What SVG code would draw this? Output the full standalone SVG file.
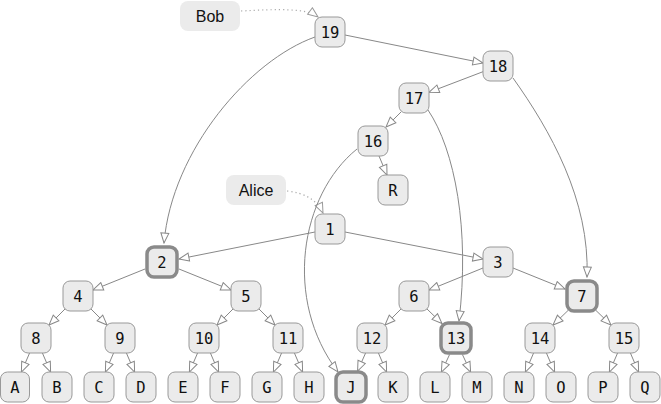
<svg xmlns="http://www.w3.org/2000/svg" width="661" height="404" viewBox="0 0 661 404">
<defs>
<style>
.n rect{fill:#ebebeb;stroke:#999;stroke-width:1}
.n.h rect{stroke:#8a8a8a;stroke-width:3.5}
.n text{font-family:"DejaVu Sans Mono",monospace;font-size:15.5px;text-anchor:middle;fill:#111}
.lb rect{fill:#ebebeb;stroke:none}
.lb text{font-family:"Liberation Sans",Arial,sans-serif;font-size:16px;text-anchor:middle;fill:#111}
.e{fill:none;stroke:#888;stroke-width:1;marker-end:url(#ah)}
.d{fill:none;stroke:#aaa;stroke-width:1.2;stroke-dasharray:1.2 3;marker-end:url(#ah2)}
</style>
<marker id="ah" viewBox="0 0 12 10" refX="11" refY="5" markerWidth="12" markerHeight="10" markerUnits="userSpaceOnUse" orient="auto">
<path d="M1,1 L11,5 L1,9 Z" fill="#fff" stroke="#888" stroke-width="1"/>
</marker>
<marker id="ah2" viewBox="0 0 12 10" refX="11" refY="5" markerWidth="12" markerHeight="10" markerUnits="userSpaceOnUse" orient="auto">
<path d="M1,1 L11,5 L1,9 Z" fill="#fff" stroke="#999" stroke-width="1"/>
</marker>
</defs>
<rect width="661" height="404" fill="#fff"/>
<g id="connectors">
<path class="d" d="M241,11 C280,9 306,8 318,17"/>
<path class="d" d="M287,191 C305,193 317,200 323,213"/>
<path class="e" d="M345,35 L483,63"/>
<path class="e" d="M483,71.7 L429,92.3"/>
<path class="e" d="M401,112 L386,127"/>
<path class="e" d="M379,156 L387,175"/>
<path class="e" d="M315,37 C250,60 172,150 164,243"/>
<path class="e" d="M513,78 C550,130 590,200 587,277"/>
<path class="e" d="M428,110 C455,150 470,230 459,321"/>
<path class="e" d="M357,149 C300,195 283,300 338,372"/>
<path class="e" d="M315,232 L179,259"/>
<path class="e" d="M345,232 L483,259"/>
<path class="e" d="M145,269 L93,290"/>
<path class="e" d="M179,269 L231,290"/>
<path class="e" d="M483,268 L429,290"/>
<path class="e" d="M513,268 L565,289"/>
<path class="e" d="M65,309 L49,325"/>
<path class="e" d="M91,309 L107,325"/>
<path class="e" d="M233,309 L217,325"/>
<path class="e" d="M259,309 L275,325"/>
<path class="e" d="M401,309 L385,325"/>
<path class="e" d="M427,309 L442,323.5"/>
<path class="e" d="M568,310.5 L553,325"/>
<path class="e" d="M596,310.5 L611,325"/>
<path class="e" d="M29.6,353 L21.4,372"/>
<path class="e" d="M42.4,353 L50.6,372"/>
<path class="e" d="M113.6,353 L105.4,372"/>
<path class="e" d="M126.4,353 L134.6,372"/>
<path class="e" d="M197.6,353 L189.4,372"/>
<path class="e" d="M210.4,353 L218.6,372"/>
<path class="e" d="M281.6,353 L273.4,372"/>
<path class="e" d="M294.4,353 L302.6,372"/>
<path class="e" d="M365.6,353 L357.6,371"/>
<path class="e" d="M378.4,353 L386.6,372"/>
<path class="e" d="M449.6,354.5 L441.4,372"/>
<path class="e" d="M462.4,354.5 L470.6,372"/>
<path class="e" d="M533.6,353 L525.4,372"/>
<path class="e" d="M546.4,353 L554.6,372"/>
<path class="e" d="M617.6,353 L609.4,372"/>
<path class="e" d="M630.4,353 L638.6,372"/>
</g>
<g id="lbl-bob" class="lb"><rect x="180" y="1" width="60" height="30" rx="8"/><text x="210" y="22">Bob</text></g>
<g id="lbl-alice" class="lb"><rect x="226" y="175" width="60" height="30" rx="8"/><text x="256" y="196">Alice</text></g>
<g id="n19" class="n"><rect x="315" y="17" width="30" height="30" rx="7"/><text x="330" y="37.5">19</text></g>
<g id="n18" class="n"><rect x="483" y="51" width="30" height="30" rx="7"/><text x="498" y="71.5">18</text></g>
<g id="n17" class="n"><rect x="399" y="83" width="30" height="30" rx="7"/><text x="414" y="103.5">17</text></g>
<g id="n16" class="n"><rect x="358" y="126" width="30" height="30" rx="7"/><text x="373" y="146.5">16</text></g>
<g id="nR" class="n"><rect x="378" y="175" width="30" height="30" rx="7"/><text x="393" y="195.5">R</text></g>
<g id="n1" class="n"><rect x="315" y="214" width="30" height="30" rx="7"/><text x="330" y="234.5">1</text></g>
<g id="n2" class="n h"><rect x="147" y="247" width="30" height="30" rx="7"/><text x="162" y="267.5">2</text></g>
<g id="n3" class="n"><rect x="483" y="247" width="30" height="30" rx="7"/><text x="498" y="267.5">3</text></g>
<g id="n4" class="n"><rect x="63" y="281" width="30" height="30" rx="7"/><text x="78" y="301.5">4</text></g>
<g id="n5" class="n"><rect x="231" y="281" width="30" height="30" rx="7"/><text x="246" y="301.5">5</text></g>
<g id="n6" class="n"><rect x="399" y="281" width="30" height="30" rx="7"/><text x="414" y="301.5">6</text></g>
<g id="n7" class="n h"><rect x="567" y="281" width="30" height="30" rx="7"/><text x="582" y="301.5">7</text></g>
<g id="n8" class="n"><rect x="21" y="323" width="30" height="30" rx="7"/><text x="36" y="343.5">8</text></g>
<g id="n9" class="n"><rect x="105" y="323" width="30" height="30" rx="7"/><text x="120" y="343.5">9</text></g>
<g id="n10" class="n"><rect x="189" y="323" width="30" height="30" rx="7"/><text x="204" y="343.5">10</text></g>
<g id="n11" class="n"><rect x="273" y="323" width="30" height="30" rx="7"/><text x="288" y="343.5">11</text></g>
<g id="n12" class="n"><rect x="357" y="323" width="30" height="30" rx="7"/><text x="372" y="343.5">12</text></g>
<g id="n13" class="n h"><rect x="441" y="323" width="30" height="30" rx="7"/><text x="456" y="343.5">13</text></g>
<g id="n14" class="n"><rect x="525" y="323" width="30" height="30" rx="7"/><text x="540" y="343.5">14</text></g>
<g id="n15" class="n"><rect x="609" y="323" width="30" height="30" rx="7"/><text x="624" y="343.5">15</text></g>
<g id="nA" class="n"><rect x="0.5" y="372" width="29" height="30" rx="7"/><text x="15" y="392.5">A</text></g>
<g id="nB" class="n"><rect x="42" y="372" width="30" height="30" rx="7"/><text x="57" y="392.5">B</text></g>
<g id="nC" class="n"><rect x="84" y="372" width="30" height="30" rx="7"/><text x="99" y="392.5">C</text></g>
<g id="nD" class="n"><rect x="126" y="372" width="30" height="30" rx="7"/><text x="141" y="392.5">D</text></g>
<g id="nE" class="n"><rect x="168" y="372" width="30" height="30" rx="7"/><text x="183" y="392.5">E</text></g>
<g id="nF" class="n"><rect x="210" y="372" width="30" height="30" rx="7"/><text x="225" y="392.5">F</text></g>
<g id="nG" class="n"><rect x="252" y="372" width="30" height="30" rx="7"/><text x="267" y="392.5">G</text></g>
<g id="nH" class="n"><rect x="294" y="372" width="30" height="30" rx="7"/><text x="309" y="392.5">H</text></g>
<g id="nJ" class="n h"><rect x="336" y="372" width="30" height="30" rx="7"/><text x="351" y="392.5">J</text></g>
<g id="nK" class="n"><rect x="378" y="372" width="30" height="30" rx="7"/><text x="393" y="392.5">K</text></g>
<g id="nL" class="n"><rect x="420" y="372" width="30" height="30" rx="7"/><text x="435" y="392.5">L</text></g>
<g id="nM" class="n"><rect x="462" y="372" width="30" height="30" rx="7"/><text x="477" y="392.5">M</text></g>
<g id="nN" class="n"><rect x="504" y="372" width="30" height="30" rx="7"/><text x="519" y="392.5">N</text></g>
<g id="nO" class="n"><rect x="546" y="372" width="30" height="30" rx="7"/><text x="561" y="392.5">O</text></g>
<g id="nP" class="n"><rect x="588" y="372" width="30" height="30" rx="7"/><text x="603" y="392.5">P</text></g>
<g id="nQ" class="n"><rect x="630" y="372" width="30" height="30" rx="7"/><text x="645" y="392.5">Q</text></g>
</svg>
